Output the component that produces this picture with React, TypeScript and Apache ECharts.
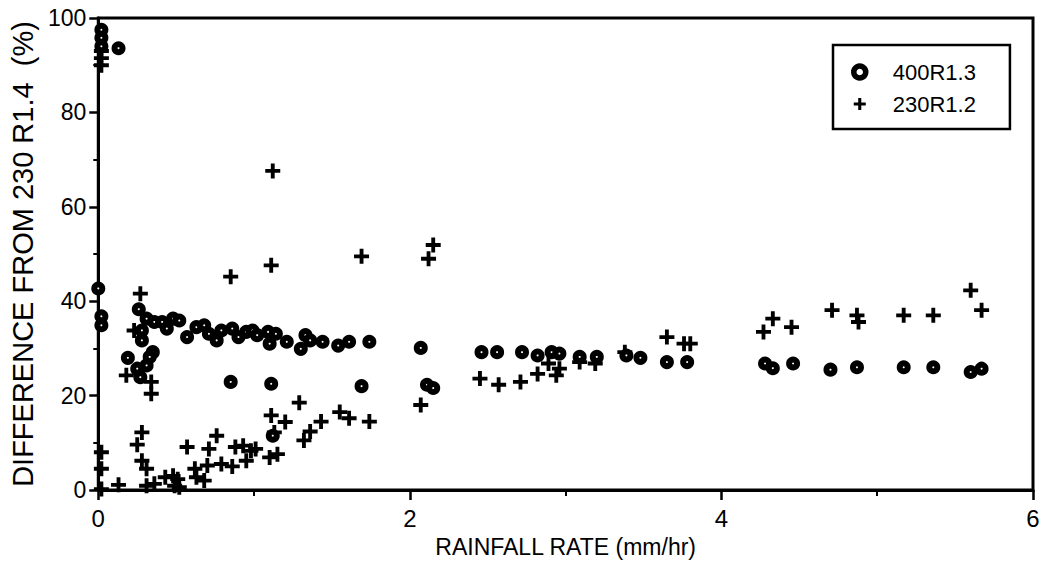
import React, { useEffect, useRef } from "react";
import * as echarts from "echarts";

// 400R1.3 (diamond-ring markers)
const rate400 = [
  0.02, 0.02, 0.02, 0.13, 0.0, 0.02, 0.02, 0.26, 0.19,
  0.31, 0.36, 0.28, 0.28, 0.35, 0.33, 0.31, 0.25, 0.27,
  0.41, 0.48, 0.52, 0.44, 0.57, 0.63, 0.68, 0.71, 0.76, 0.79, 0.86, 0.9, 0.95, 0.99,
  1.02, 1.09, 1.14, 1.1, 1.21, 1.3, 1.33, 1.36, 1.44, 1.54, 1.61, 1.74, 2.07,
  0.85, 1.11, 1.69, 2.11, 2.15, 1.12,
  2.46, 2.56, 2.72, 2.82, 2.91, 2.96, 3.09, 3.2, 3.39, 3.48, 3.65, 3.78,
  4.28, 4.33, 4.46, 4.7, 4.87, 5.17, 5.36, 5.6, 5.67,
];
const diff400 = [
  97.5, 95.8, 94.0, 93.6, 42.7, 36.8, 34.9, 38.3, 28.0,
  36.3, 35.6, 33.8, 31.7, 29.2, 28.2, 26.4, 25.7, 23.9,
  35.6, 36.3, 35.9, 34.2, 32.4, 34.5, 34.9, 33.1, 31.7, 33.8, 34.2, 32.4, 33.5, 33.8,
  32.8, 33.5, 33.1, 31.0, 31.4, 29.9, 32.8, 31.7, 31.4, 30.6, 31.4, 31.4, 30.1,
  22.9, 22.5, 22.0, 22.3, 21.6, 11.5,
  29.2, 29.2, 29.2, 28.5, 29.2, 28.9, 28.2, 28.2, 28.5, 28.0, 27.1, 27.1,
  26.8, 25.8, 26.8, 25.5, 26.0, 26.0, 26.0, 25.0, 25.7,
];

// 230R1.2 (plus markers)
const rate230 = [
  0.02, 0.02, 0.02, 0.02, 0.02, 0.02, 0.13,
  0.27, 0.23, 0.18, 0.34, 0.34,
  0.85, 1.12, 1.11, 1.69, 2.15, 2.12,
  0.28, 0.25, 0.28, 0.31, 0.31, 0.36,
  0.43, 0.48, 0.51, 0.49, 0.52,
  0.57, 0.62, 0.63, 0.68, 0.7, 0.71, 0.76,
  0.79, 0.86, 0.88, 0.93, 0.95, 0.98, 1.01,
  1.11, 1.2, 1.1, 1.15, 1.13,
  1.29, 1.32, 1.36, 1.43, 1.55, 1.61, 1.74, 2.07,
  2.45, 2.57, 2.71, 2.82, 2.89, 2.94, 2.96, 3.09, 3.19, 3.38, 3.65, 3.76, 3.8,
  4.27, 4.33, 4.45, 4.71, 4.87, 4.88, 5.17, 5.36, 5.6, 5.67,
];
const diff230 = [
  93.0, 91.5, 90.0, 8.0, 4.5, 0.2, 1.1,
  41.6, 33.8, 24.3, 22.9, 20.4,
  45.2, 67.6, 47.6, 49.5, 51.9, 49.0,
  12.2, 9.6, 6.2, 4.5, 0.9, 1.3,
  2.7, 3.0, 2.3, 0.9, 0.6,
  9.1, 4.5, 2.7, 2.0, 5.2, 8.7, 11.5,
  5.5, 5.0, 9.1, 9.4, 6.2, 8.3, 8.7,
  15.8, 14.4, 6.9, 7.6, 12.2,
  18.5, 10.5, 12.4, 14.5, 16.5, 15.2, 14.5, 18.0,
  23.6, 22.3, 22.9, 24.6, 26.8, 24.3, 25.7, 27.1, 26.8, 29.2, 32.4, 31.0, 31.0,
  33.5, 36.3, 34.5, 38.1, 37.0, 35.6, 37.0, 37.0, 42.3, 38.1,
];

const seriesNames = ["400R1.3", "230R1.2"];
const xTitle = "RAINFALL RATE (mm/hr)";
const yTitle = "DIFFERENCE FROM 230 R1.4  (%)";

const PLUS = "path://M0,5.2H14V8.8H0Z M5.2,0H8.8V14H5.2Z";
const FONT = "'Liberation Sans', Arial, Helvetica, sans-serif";

export default function App() {
  const ref = useRef<HTMLDivElement>(null);
  useEffect(() => {
    document.body.style.margin = "0";
    const chart = echarts.init(ref.current!, null, { renderer: "svg" });
    const d400 = rate400.map((x, i) => [x, diff400[i]]);
    const d230 = rate230.map((x, i) => [x, diff230[i]]);
    chart.setOption({
      animation: false,
      backgroundColor: "#fff",
      grid: {
        left: 93,
        right: 10,
        top: 18,
        bottom: 75,
        show: true,
        borderColor: "#000",
        borderWidth: 3,
        backgroundColor: "transparent",
      },
      legend: {
        orient: "vertical",
        left: 833,
        top: 45,
        data: [
          { name: seriesNames[0], icon: "circle", itemStyle: { color: "#fff", borderColor: "#000", borderWidth: 5.5 } },
          { name: seriesNames[1], icon: PLUS, itemStyle: { color: "#000" } },
        ],
        itemWidth: 12,
        itemHeight: 12,
        itemGap: 10,
        padding: [16, 34, 14, 18],
        borderColor: "#000",
        borderWidth: 2.5,
        textStyle: { fontSize: 22, color: "#000", fontFamily: FONT, padding: [0, 0, 0, 22] },
      },
      xAxis: {
        type: "value",
        min: 0,
        max: 6,
        interval: 2,
        name: xTitle,
        nameLocation: "middle",
        nameGap: 45,
        nameTextStyle: { fontSize: 23, color: "#000", fontFamily: FONT },
        axisLine: { lineStyle: { color: "#000", width: 3 } },
        axisTick: { length: 10, lineStyle: { color: "#000", width: 2.5 } },
        minorTick: { show: true, splitNumber: 2, length: 6, lineStyle: { color: "#000", width: 2 } },
        splitLine: { show: false },
        axisLabel: { fontSize: 24, color: "#000", margin: 16, fontFamily: FONT },
      },
      yAxis: {
        type: "value",
        min: 0,
        max: 100,
        interval: 20,
        name: yTitle,
        nameLocation: "middle",
        nameGap: 46,
        nameRotate: 90,
        nameTextStyle: { fontSize: 29, color: "#000", fontFamily: FONT },
        axisLine: { lineStyle: { color: "#000", width: 3 } },
        axisTick: { length: 9, lineStyle: { color: "#000", width: 2.5 } },
        minorTick: { show: true, splitNumber: 2, length: 5, lineStyle: { color: "#000", width: 2 } },
        splitLine: { show: false },
        axisLabel: { fontSize: 23, color: "#000", margin: 12, fontFamily: FONT },
      },
      series: [
        {
          name: seriesNames[0],
          type: "scatter",
          data: d400,
          symbol: "circle",
          symbolSize: 8,
          itemStyle: { color: "#fff", borderColor: "#000", borderWidth: 6, opacity: 1 },
          z: 3,
        },
        {
          name: seriesNames[1],
          type: "scatter",
          data: d230,
          symbol: PLUS,
          symbolSize: 15,
          itemStyle: { color: "#000", opacity: 1 },
          z: 2,
        },
      ],
    });
    return () => chart.dispose();
  }, []);
  return <div ref={ref} style={{ width: 1043, height: 565 }} />;
}
